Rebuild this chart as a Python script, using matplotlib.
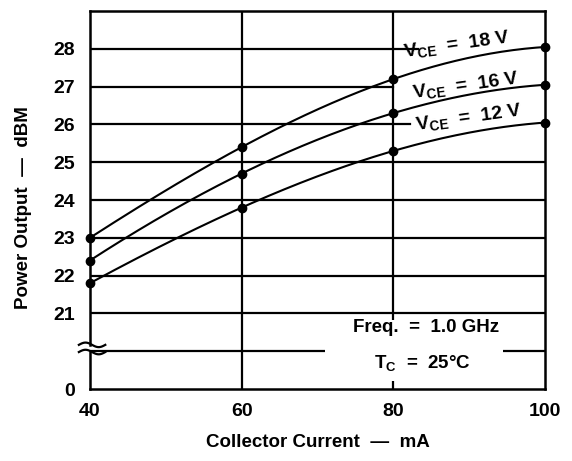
import numpy as np
import matplotlib
matplotlib.use("Agg")
import matplotlib.pyplot as plt
from matplotlib.patches import Rectangle

plt.rcParams['font.family'] = ['Liberation Sans', 'DejaVu Sans']

# Data (collector current in mA, power output in dBm)
current = [40, 60, 80, 100]
p_18v = [23.0, 25.4, 27.2, 28.05]
p_16v = [22.4, 24.7, 26.3, 27.05]
p_12v = [21.8, 23.8, 25.3, 26.05]
series_labels = ['V$_{\\mathregular{CE}}$  =  18 V', 'V$_{\\mathregular{CE}}$  =  16 V', 'V$_{\\mathregular{CE}}$  =  12 V']
y_ticks = [19, 20, 21, 22, 23, 24, 25, 26, 27, 28]
y_ticklabels = ['0', '', '21', '22', '23', '24', '25', '26', '27', '28']
x_ticks = [40, 60, 80, 100]

fig = plt.figure(figsize=(5.72, 4.61), dpi=100)
ax = fig.add_axes([0.157, 0.156, 0.796, 0.820])
ax.set_xlim(40, 100)
ax.set_ylim(19, 29)

# grid lines (some stop where the curve labels start)
grid_ends = {26: 82.2, 27: 80.0, 28: 83.2}
for y in range(20, 29):
    ax.plot([40, grid_ends.get(y, 100)], [y, y], color='black', lw=1.6, zorder=1)
for x in [60, 80]:
    ax.axvline(x, color='black', lw=1.6, zorder=1)

# smooth curves through the measured points
xs = np.linspace(40, 100, 200)
for vals in [p_18v, p_16v, p_12v]:
    coef = np.polyfit(current, vals, 3)
    ax.plot(xs, np.polyval(coef, xs), color='black', lw=1.5, zorder=2)
    ax.plot(current, vals, 'o', color='black', ms=6, zorder=4, clip_on=False)

# curve labels
label_pos = [(88.4, 28.1), (89.6, 27.0), (90.0, 26.16)]
for (lx, ly), txt in zip(label_pos, series_labels):
    ax.text(lx, ly, txt, fontsize=14, fontweight='bold', rotation=8,
            ha='center', va='center', zorder=5)

# conditions box
ax.add_patch(Rectangle((71.0, 19.22), 23.5, 1.6, facecolor='white', edgecolor='none', zorder=3))
ax.text(84.3, 20.62, 'Freq.  =  1.0 GHz', fontsize=13.5, fontweight='bold',
        ha='center', va='center', zorder=5)
ax.text(83.8, 19.66, 'T$_{\\mathregular{C}}$  =  25\u00b0C', fontsize=13.5, fontweight='bold',
        ha='center', va='center', zorder=5)

ax.set_xticks(x_ticks)
ax.set_xticklabels([str(v) for v in x_ticks], fontsize=14, fontweight='bold')
ax.set_yticks(y_ticks)
ax.set_yticklabels(y_ticklabels, fontsize=14, fontweight='bold')
ax.tick_params(axis='y', length=0, pad=11)
ax.tick_params(axis='x', length=0, pad=10)

for side in ['top', 'right', 'bottom']:
    ax.spines[side].set_linewidth(1.8)
ax.spines['left'].set_visible(False)

# left spine with axis break
ax.plot([0, 0], [0, 0.098], transform=ax.transAxes, color='black', lw=1.8, clip_on=False, zorder=6)
ax.plot([0, 0], [0.117, 1], transform=ax.transAxes, color='black', lw=1.8, clip_on=False, zorder=6)
t = np.linspace(0, 1, 40)
bx = -0.024 + 0.058 * t
for yb in [0.098, 0.117]:
    ax.plot(bx, yb + 0.006 * np.sin(2 * np.pi * t), transform=ax.transAxes,
            color='black', lw=1.6, clip_on=False, zorder=6)

ax.set_xlabel('Collector Current  \u2014  mA', fontsize=13.5, fontweight='bold')
ax.xaxis.set_label_coords(0.5, -0.12)
ax.set_ylabel('Power Output  \u2014  dBM', fontsize=13.5, fontweight='bold')
ax.yaxis.set_label_coords(-0.127, 0.48)

fig.savefig('out.png', dpi=100)
